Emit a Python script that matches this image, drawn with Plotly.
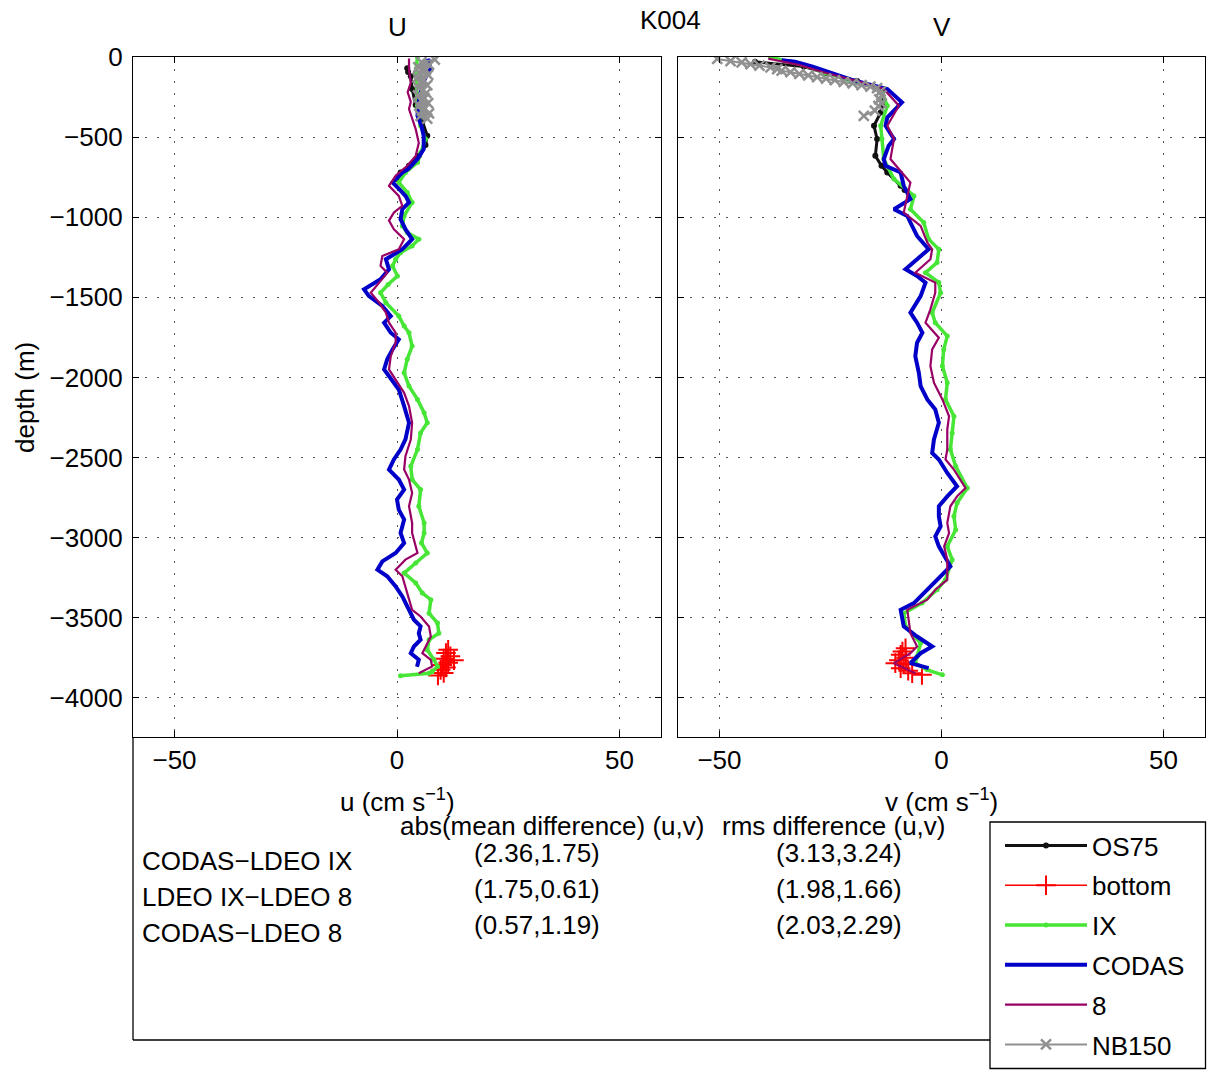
import plotly.graph_objects as go

# ---------------- data ----------------
# U panel  (depth m, u cm/s)
os75_u_depth = [-70, -94, -120, -200, -300, -400, -492, -550, -617, -679, -721, -762]
os75_u = [2.3, 2.5, 3.1, 3.4, 4.2, 5.7, 6.8, 6.4, 4.9, 2.7, 0.8, 0.1]

bottom_u_depth = [-3700, -3720, -3740, -3755, -3765, -3780, -3795, -3810, -3825, -3845, -3860]
bottom_u = [11.5, 11.0, 12.0, 10.5, 12.8, 11.5, 10.2, 11.0, 9.8, 10.5, 9.2]

ix_u_depth = [0, -96, -304, -429, -512, -596, -658, -721, -783, -846, -908, -992, -1054, -1096,
              -1137, -1179, -1221, -1262, -1304, -1367, -1420, -1471, -1533, -1617, -1679, -1721,
              -1804, -1887, -1971, -2054, -2137, -2221, -2283, -2346, -2450, -2554, -2637, -2700,
              -2804, -2908, -2971, -3033, -3096, -3158, -3221, -3283, -3346, -3387, -3471, -3533,
              -3596, -3637, -3700, -3762, -3804, -3835, -3846, -3862]
ix_u = [4.6, 4.2, 4.6, 5.3, 6.4, 5.3, 4.6, 1.9, 0.4, 2.3, 3.4, 1.6, 1.2, 2.3,
        4.9, 3.4, 0.8, -0.3, -1.0, 0.1, -2.0, -3.7, -2.5, 0.4, 1.6, 2.7,
        3.4, 2.3, 1.6, 2.7, 4.6, 6.1, 6.8, 5.3, 4.6, 3.1, 3.4, 5.3,
        4.9, 6.1, 6.1, 5.5, 6.8, 4.2, 1.6, 4.2, 5.7, 7.6, 7.2, 9.1,
        9.4, 7.2, 6.8, 8.3, 9.1, 7.9, 7.2, 0.8]

codas_u_depth = [-10, -75, -150, -250, -367, -430, -492, -575, -637, -700, -721, -783, -825, -870,
                 -908, -950, -1012, -1075, -1137, -1200, -1262, -1325, -1387, -1450, -1492, -1554,
                 -1617, -1658, -1721, -1762, -1825, -1887, -1950, -1992, -2075, -2179, -2283, -2387,
                 -2450, -2512, -2575, -2637, -2700, -2762, -2825, -2887, -2971, -3033, -3096, -3148,
                 -3200, -3241, -3304, -3367, -3429, -3512, -3554, -3596, -3637, -3679, -3721, -3762,
                 -3806]
codas_u = [7.0, 7.5, 6.0, 5.0, 4.6, 5.5, 6.0, 6.0, 4.6, 2.5, 1.2, -1.0, 0.5, 2.0,
           2.7, 1.2, 0.8, 1.9, 3.4, 1.2, -2.5, -1.8, -3.7, -7.4, -6.3, -3.3,
           -1.4, -2.9, -1.4, 0.4, -1.0, -2.2, -2.9, -1.8, 0.4, 1.6, 2.7, 1.9,
           0.8, -0.7, -1.8, 0.4, 1.6, 0.0, 0.4, 1.6, 0.8, 1.6, -0.3, -3.3,
           -4.4, -2.2, -0.3, 1.2, 2.3, 3.8, 5.3, 4.9, 5.3, 3.8, 3.1, 4.9,
           4.5]

ldeo8_u_depth = [-10, -80, -160, -220, -280, -325, -450, -537, -617, -679, -741, -804, -867, -929,
                 -971, -1021, -1075, -1137, -1200, -1242, -1304, -1346, -1408, -1471, -1533, -1596,
                 -1658, -1721, -1783, -1867, -1950, -2012, -2096, -2179, -2283, -2387, -2492, -2575,
                 -2637, -2721, -2804, -2908, -2971, -3096, -3137, -3200, -3241, -3346, -3450, -3492,
                 -3554, -3617, -3679, -3721, -3762, -3804, -3846]
ldeo8_u = [2.7, 2.7, 3.1, 2.4, 3.1, 2.7, 4.2, 4.9, 4.2, 2.3, -0.3, -1.8, 0.4, 1.2,
           -0.7, -1.8, -0.7, 1.6, 0.4, -3.3, -3.7, -2.2, -4.0, -5.9, -4.0, -2.5,
           -1.8, -0.3, -0.3, -1.4, -1.8, -0.3, 1.6, 2.7, 3.4, 3.1, 1.9, 1.6,
           2.7, 3.4, 2.7, 3.4, 3.4, 4.6, 1.9, -0.3, 1.2, 2.3, 3.4, 5.3,
           7.2, 7.6, 6.4, 5.7, 7.6, 7.9, 4.9]

nb150_u_depth = [-16, -32, -48, -64, -80, -96, -112, -128, -144, -160, -176, -192,
                 -208, -224, -240, -256, -272, -288, -304, -320, -336, -352, -368, -384]
nb150_u = [8.5, 5.5, 7.2, 4.8, 6.5, 5.0, 7.0, 4.6, 6.0, 5.2, 6.8, 4.9,
           5.8, 6.6, 4.7, 6.2, 5.4, 7.0, 5.0, 6.3, 5.6, 7.2, 5.3, 6.8]

# V panel  (depth m, v cm/s)
os75_v_depth = [-30, -60, -100, -150, -200, -280, -346, -429, -512, -617, -679, -721, -804, -830]
os75_v = [-42.0, -31.0, -26.0, -19.0, -13.5, -13.0, -13.7, -15.2, -14.5, -14.9, -13.5, -12.2, -9.2, -8.3]

bottom_v_depth = [-3690, -3710, -3731, -3750, -3765, -3783, -3790, -3815, -3830, -3846, -3856]
bottom_v = [-8.1, -8.8, -9.2, -8.0, -9.6, -10.4, -8.5, -9.2, -7.5, -6.6, -4.4]

ix_v_depth = [0, -30, -60, -100, -140, -170, -200, -304, -429, -512, -637, -762, -867, -950,
              -1033, -1137, -1200, -1283, -1346, -1408, -1471, -1596, -1658, -1742, -1825, -1929,
              -2033, -2137, -2242, -2346, -2450, -2554, -2690, -2783, -2867, -2950, -3054, -3137,
              -3262, -3325, -3408, -3471, -3554, -3658, -3742, -3783, -3825, -3856]
ix_v = [-38.5, -34.0, -30.0, -26.0, -21.0, -17.0, -13.7, -12.2, -13.7, -13.4, -13.0, -10.7, -6.2, -7.0,
        -4.0, -2.9, -0.6, -1.0, -3.6, -0.6, -0.2, -2.1, -1.4, 1.3, 0.5, 0.2,
        1.3, 0.9, 2.8, 2.4, 2.0, 3.2, 5.8, 3.5, 2.8, 3.2, 1.3, 2.4,
        0.9, -1.0, -4.4, -8.5, -8.1, -4.7, -5.5, -5.9, -3.2, 0.2]

codas_v_depth = [-20, -30, -60, -100, -140, -170, -200, -283, -335, -377, -429, -512, -554, -637,
                 -679, -721, -804, -887, -950, -992, -1033, -1117, -1200, -1262, -1325, -1367,
                 -1408, -1492, -1596, -1658, -1721, -1783, -1867, -1971, -2054, -2137, -2200, -2283,
                 -2387, -2471, -2512, -2596, -2679, -2742, -2804, -2867, -2929, -2992, -3054, -3179,
                 -3262, -3346, -3408, -3450, -3554, -3617, -3679, -3721, -3783, -3814]
codas_v = [-36.0, -33.0, -29.0, -25.0, -20.5, -16.5, -12.2, -8.9, -10.7, -12.2, -12.6, -10.7, -11.9, -13.0,
           -12.6, -9.2, -8.5, -7.0, -10.7, -7.7, -7.0, -5.5, -2.9, -5.5, -8.1, -5.5,
           -3.6, -4.7, -7.0, -5.5, -4.3, -5.5, -5.9, -5.1, -4.7, -3.2, -1.4, -0.6,
           -1.7, -2.1, -0.6, 1.3, 3.5, 1.3, -0.6, -0.6, -0.2, -1.4, -0.6, 2.0,
           -1.0, -4.0, -6.2, -9.2, -8.5, -5.5, -2.1, -4.7, -7.0, -2.9]

ldeo8_v_depth = [-10, -50, -100, -150, -200, -304, -429, -512, -637, -783, -867, -971, -1054, -1158,
                 -1200, -1262, -1346, -1408, -1471, -1575, -1658, -1752, -1825, -1929, -2033, -2137,
                 -2242, -2325, -2450, -2512, -2575, -2690, -2742, -2804, -2908, -2971, -3054, -3137,
                 -3262, -3325, -3387, -3450, -3512, -3596, -3679, -3721, -3783, -3846]
ldeo8_v = [-39.0, -32.0, -26.0, -19.0, -13.0, -9.6, -12.2, -10.7, -11.5, -7.0, -7.7, -8.5, -4.7, -3.2,
           -2.1, -2.5, -5.9, -1.4, -1.4, -2.5, -3.6, -0.6, -2.1, -2.5, -1.7, 0.2,
           1.7, 1.3, 1.3, 0.9, 2.8, 5.4, 3.5, 2.0, 1.3, 1.7, 0.6, 1.3,
           1.3, -1.4, -3.2, -7.7, -7.4, -7.0, -5.5, -7.0, -10.7, -5.9]

nb150_v_depth = [-12, -25, -33, -45, -54, -65, -75, -85, -95, -105, -115, -125, -135,
                 -145, -155, -165, -175, -185, -195, -215, -240, -265, -290, -305, -335, -367]
nb150_v = [-50.5, -47.5, -45.0, -43.0, -41.0, -38.5, -37.0, -36.0, -34.0, -32.0, -30.0, -28.0, -26.0,
           -24.0, -22.0, -20.0, -18.0, -16.0, -14.5, -13.7, -13.5, -14.0, -13.5, -14.2, -15.0, -17.5]

# statistics table
row_labels = ["CODAS\u2212LDEO IX", "LDEO IX\u2212LDEO 8", "CODAS\u2212LDEO 8"]
mean_diff = ["(2.36,1.75)", "(1.75,0.61)", "(0.57,1.19)"]
rms_diff = ["(3.13,3.24)", "(1.98,1.66)", "(2.03,2.29)"]

x_ticks = [-50, 0, 50]
y_ticks = [0, -500, -1000, -1500, -2000, -2500, -3000, -3500, -4000]

# ---------------- figure ----------------
W, H = 1207, 1070
FONT = "Liberation Sans, Arial, sans-serif"
FS = 26


def px(x):
    return x / W


def py(y):
    return 1 - y / H


styles = {
    "OS75": dict(mode="lines+markers", line=dict(color="#111111", width=3),
                 marker=dict(symbol="circle", size=6, color="#111111")),
    "bottom": dict(mode="lines+markers", line=dict(color="#ff0000", width=1.5),
                   marker=dict(symbol="cross-thin", size=14, color="#ff0000",
                               line=dict(color="#ff0000", width=2))),
    "IX": dict(mode="lines+markers", line=dict(color="#47e536", width=3.5),
               marker=dict(symbol="circle", size=5, color="#47e536")),
    "CODAS": dict(mode="lines", line=dict(color="#0000c8", width=4)),
    "8": dict(mode="lines", line=dict(color="#990066", width=2.2)),
    "NB150": dict(mode="lines+markers", line=dict(color="#909090", width=2),
                  marker=dict(symbol="x-thin", size=10, color="#909090",
                              line=dict(color="#909090", width=2.5))),
}

series = [
    ("OS75", os75_u, os75_u_depth, os75_v, os75_v_depth),
    ("bottom", bottom_u, bottom_u_depth, bottom_v, bottom_v_depth),
    ("IX", ix_u, ix_u_depth, ix_v, ix_v_depth),
    ("CODAS", codas_u, codas_u_depth, codas_v, codas_v_depth),
    ("8", ldeo8_u, ldeo8_u_depth, ldeo8_v, ldeo8_v_depth),
    ("NB150", nb150_u, nb150_u_depth, nb150_v, nb150_v_depth),
]

fig = go.Figure()
for name, uu, ud, vv, vd in series:
    fig.add_trace(go.Scatter(x=uu, y=ud, name=name, legendgroup=name, showlegend=True,
                             xaxis="x", yaxis="y", **styles[name]))
    fig.add_trace(go.Scatter(x=vv, y=vd, name=name, legendgroup=name, showlegend=False,
                             xaxis="x2", yaxis="y2", **styles[name]))

axis_common = dict(
    range=[-59.33, 59.33], tickvals=x_ticks, ticks="inside", ticklen=6, tickwidth=1,
    tickcolor="black", showline=True, linecolor="black", linewidth=1.3, mirror="ticks",
    showgrid=True, gridcolor="#555555", gridwidth=1, griddash="2px,10px", zeroline=False,
    tickfont=dict(family=FONT, size=FS, color="black"), ticklabelstandoff=0,
)
yaxis_common = dict(
    range=[-4244, 0], tickvals=y_ticks, ticks="inside", ticklen=6, tickwidth=1,
    tickcolor="black", showline=True, linecolor="black", linewidth=1.3, mirror="ticks",
    showgrid=True, gridcolor="#555555", gridwidth=1, griddash="2px,10px", zeroline=False,
    tickfont=dict(family=FONT, size=FS, color="black"), domain=[py(737), py(57)],
)

fig.update_layout(
    width=W, height=H, margin=dict(l=0, r=0, t=0, b=0, autoexpand=False),
    paper_bgcolor="white", plot_bgcolor="white",
    font=dict(family=FONT, size=FS, color="black"),
    xaxis=dict(domain=[px(133), px(661)], anchor="y", **axis_common),
    xaxis2=dict(domain=[px(678), px(1205)], anchor="y2", **axis_common),
    yaxis=dict(anchor="x", ticklabelstandoff=4, **yaxis_common),
    yaxis2=dict(anchor="x2", showticklabels=False, **yaxis_common),
    legend=dict(x=px(1000), y=py(822), xanchor="left", yanchor="top",
                bgcolor="rgba(0,0,0,0)", borderwidth=0,
                font=dict(family=FONT, size=FS, color="black"),
                itemwidth=82, traceorder="grouped", tracegroupgap=3),
    showlegend=True,
)

# frame of the lower text area
fig.add_shape(type="line", xref="paper", yref="paper", x0=px(133), x1=px(133),
              y0=py(737), y1=py(1040), line=dict(color="black", width=1.3))
fig.add_shape(type="line", xref="paper", yref="paper", x0=px(133), x1=px(1206),
              y0=py(1040), y1=py(1040), line=dict(color="black", width=1.3))
# legend frame
fig.add_shape(type="rect", xref="paper", yref="paper", x0=px(990), x1=px(1205.5),
              y0=py(1068.5), y1=py(822), fillcolor="white",
              line=dict(color="black", width=1.3), layer="above")


def ann(text, x, y, xanchor="center", angle=0):
    fig.add_annotation(text=text, x=px(x), y=py(y), xref="paper", yref="paper",
                       xanchor=xanchor, yanchor="middle", showarrow=False, textangle=angle,
                       font=dict(family=FONT, size=FS, color="black"))


ann("K004", 670, 20)
ann("U", 397, 27)
ann("V", 942, 27)
ann("u (cm s<sup>\u22121</sup>)", 397, 800)
ann("v (cm s<sup>\u22121</sup>)", 941, 800)
ann("depth (m)", 25, 398, angle=-90)
ann("abs(mean difference) (u,v)", 398, 826, xanchor="left")
ann("rms difference (u,v)", 720, 826, xanchor="left")
for i, (lab, md, rd) in enumerate(zip(row_labels, mean_diff, rms_diff)):
    ann(lab, 140, 861 + 36 * i, xanchor="left")
    ann(md, 537, 853 + 36 * i)
    ann(rd, 839, 853 + 36 * i)

# the page itself has no margin, so the 1207x1070 figure fills the window exactly
fig.write_html("out.html", config={"displayModeBar": False},
               post_script="document.body.style.margin='0px';document.body.style.overflow='hidden';")
